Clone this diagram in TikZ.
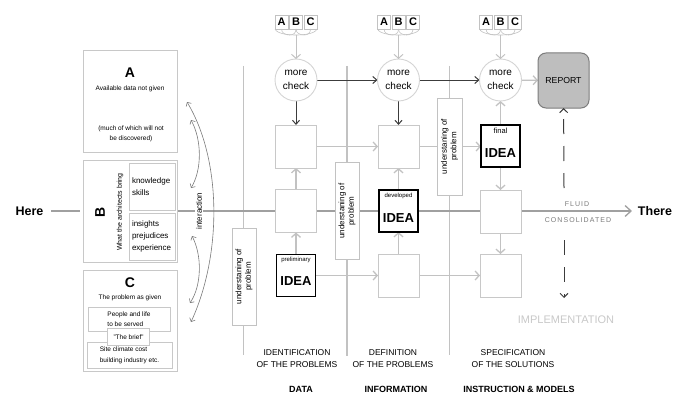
\documentclass[tikz,border=0pt]{standalone}
\usepackage{fontspec}
\setmainfont{Liberation Sans}
\usetikzlibrary{arrows.meta,backgrounds}
\newcommand{\fsz}[2]{\fontsize{#1}{#2}\selectfont}
\definecolor{lg}{HTML}{C2C2C2}
\definecolor{bdr}{HTML}{C8C8C8}
\definecolor{cbd}{HTML}{D4D4D4}
\definecolor{dk}{HTML}{3C3C3C}
\definecolor{mg}{HTML}{A0A0A0}
\definecolor{tg}{HTML}{7A7A7A}
\definecolor{impl}{HTML}{C8C8C8}
\definecolor{repf}{HTML}{BEBEBE}
\definecolor{repd}{HTML}{7C7C7C}
\tikzset{
  every node/.style={inner sep=0pt,outer sep=0pt},
  sq/.style={draw=bdr,fill=white,line width=1pt,minimum width=41pt,minimum height=43pt},
  ideabox/.style={draw=black,fill=white,line width=1.8pt,minimum width=39pt,minimum height=42pt},
  mcirc/.style={circle,draw=cbd,fill=white,line width=0.9pt,minimum size=42pt,align=center,font=\fsz{10}{14}},
  gline/.style={draw=lg,line width=1.3pt},
  garr/.style={gline,-{Straight Barb[length=4pt,width=9pt]}},
  darr/.style={draw=dk,line width=1pt,-{Straight Barb[length=4pt,width=7pt]}},
  undbox/.style={draw=lg,fill=white,line width=1pt,rotate=90,minimum width=97pt,minimum height=24pt,align=center,font=\fsz{8}{9.5}},
  abcbox/.style={draw=lg,line width=0.6pt,minimum width=13pt,minimum height=14pt,font=\fsz{11}{12}\bfseries},
  brc/.style={draw=lg,line width=0.6pt},
  pbox/.style={draw=bdr,fill=white,line width=1pt},
  smalltxt/.style={font=\fsz{6.5}{10},align=center},
  ia/.style={draw=tg,line width=0.6pt,{Straight Barb[length=3pt,width=6pt]}-{Straight Barb[length=3pt,width=6pt]}},
  lbl/.style={align=center,font=\fsz{8.5}{12}},
  blbl/.style={font=\fsz{9}{10}\bfseries},
  mainl/.style={draw=mg,line width=1.3pt},
  dashl/.style={draw=dk,line width=1pt,dash pattern=on 15pt off 12pt,-{Straight Barb[length=4pt,width=8pt]}},
}
\begin{document}
\begin{tikzpicture}[x=1pt,y=-1pt]
\useasboundingbox (0,0) rectangle (685,396);
% ---------- box A
\node[pbox,minimum width=94pt,minimum height=101pt] (boxA) at (130,101.5) {};
\node[font=\fsz{14}{14}\bfseries] (tA) at (130,73) {A};
\node[smalltxt] (tA1) at (130,89) {Available data not given};
\node[smalltxt] (tA2) at (131,133.5) {(much of which will not\\ be discovered)};
% ---------- box B
\node[pbox,minimum width=94pt,minimum height=102pt] (boxB) at (130,211) {};
\node[pbox,minimum width=46pt,minimum height=47pt,align=left,text width=40pt,font=\fsz{8}{12}] (kb) at (152,186.5) {knowledge\\skills};
\node[pbox,minimum width=46pt,minimum height=47pt,align=left,text width=40pt,font=\fsz{8}{12}] (ib) at (152,236.5) {insights\\prejudices\\experience};
\node[rotate=90,font=\fsz{14}{14}\bfseries] (tB) at (100,212) {B};
\node[rotate=90,font=\fsz{7}{8}] (tB1) at (120,212) {What the architects bring};
% ---------- box C
\node[pbox,minimum width=94pt,minimum height=101pt] (boxC) at (130,320.5) {};
\node[font=\fsz{14}{14}\bfseries] (tC) at (130,283) {C};
\node[smalltxt] (tC1) at (130,298) {The problem as given};
\node[pbox,minimum width=82pt,minimum height=24pt,smalltxt,align=left] (peo) at (129,319) {People and life\\to be served};
\node[pbox,minimum width=85pt,minimum height=26pt,smalltxt,align=left,font=\fsz{6.5}{11}] (site) at (129.5,355.5) {Site climate cost\\building industry etc.};
\node[pbox,minimum width=42pt,minimum height=17pt,smalltxt] (brief) at (128.5,337) {"The brief"};
% ---------- interaction
\coordinate (i1) at (187,102);
\coordinate (i2) at (191,322);
\coordinate (i3) at (191,120);
\coordinate (i4) at (191,188);
\coordinate (i5) at (192,236);
\coordinate (i6) at (190,303);
\draw[ia] (i2) .. controls (222,255) and (222,160) .. (i1);
\draw[ia] (i4) .. controls (202,170) and (202,140) .. (i3);
\draw[ia] (i6) .. controls (202,285) and (202,255) .. (i5);
\node[rotate=90,font=\fsz{8}{9},fill=white,inner sep=1pt] (inter) at (199,211) {interaction};
% ---------- circles
\node[mcirc] (mc1) at (296,80) {more\\check};
\node[mcirc] (mc2) at (398.5,80) {more\\check};
\node[mcirc] (mc3) at (500.5,80) {more\\check};
% ---------- squares and ideas
\node[sq] (s11) at (296,146.5) {};
\node[sq] (s12) at (398.5,146.5) {};
\node[ideabox] (fin) at (500.5,146) {};
\node[sq] (s21) at (296,211) {};
\node[ideabox] (dev) at (398.5,211) {};
\node[sq] (s23) at (500.5,211.5) {};
\node[ideabox] (pre) at (296,275.5) {};
\node[sq] (s32) at (398.5,275.5) {};
\node[sq] (s33) at (500.5,275.5) {};
\node[font=\fsz{6}{7}] (preT) at (296,259.5) {preliminary};
\node[font=\fsz{13}{14}\bfseries] (preI) at (296,281) {IDEA};
\node[font=\fsz{6}{7}] (devT) at (398.5,196) {developed};
\node[font=\fsz{13}{14}\bfseries] (devI) at (398.5,218.5) {IDEA};
\node[font=\fsz{7.5}{8}] (finT) at (500.5,131) {final};
\node[font=\fsz{13}{14}\bfseries] (finI) at (500.5,153.5) {IDEA};
% ---------- understanding boxes
\node[undbox] (u1) at (244,276.5) {understaning of\\problem};
\node[undbox] (u2) at (347,211) {understaning of\\problem};
\node[undbox,minimum height=25pt] (u3) at (449.5,146.5) {understaning of\\problem};
% ---------- ABC groups
\foreach \i/\cx in {1/296,2/398.5,3/500.5}{
  \node[abcbox] (ga\i) at (\cx-14.5,22) {A};
  \node[abcbox] (gb\i) at (\cx,22) {B};
  \node[abcbox] (gc\i) at (\cx+14.5,22) {C};
  \coordinate (m\i) at (\cx,35);
  \draw[brc] (ga\i.south west) .. controls +(2,5) and +(-7,0) .. (m\i);
  \draw[brc] (gc\i.south east) .. controls +(-2,5) and +(7,0) .. (m\i);
  \draw[brc] (ga\i.south) .. controls +(0,4) and +(-4,0) .. (gb\i.south west |- m\i) .. controls +(4,0) and +(0,4) .. (gb\i.south);
  \draw[brc] (gb\i.south) .. controls +(0,4) and +(-4,0) .. (gc\i.south west |- m\i) .. controls +(4,0) and +(0,4) .. (gc\i.south);
  \draw[garr,line width=1pt] (m\i) -- (mc\i);
}
% ---------- report
\node[draw=repd,fill=repf,line width=1pt,rounded corners=8pt,minimum width=51pt,minimum height=55pt,font=\fsz{8.7}{10}] (rep) at (563.5,80.5) {REPORT};
% ---------- here / there
\node[font=\fsz{12.5}{14}\bfseries] (here) at (29.5,211) {Here};
\node[font=\fsz{12.5}{14}\bfseries] (there) at (655,211) {There};
\node[font=\fsz{7}{8}\addfontfeatures{LetterSpace=15},text=tg] (fl) at (577,204) {FLUID};
\node[font=\fsz{7}{8}\addfontfeatures{LetterSpace=15},text=tg] (cons) at (578,220) {CONSOLIDATED};
\node[font=\fsz{11}{12},text=impl] (imp) at (566,320) {IMPLEMENTATION};
\coordinate (dtop) at (564,188);
\coordinate (dbot) at (564,240);
\coordinate (dend) at (564,298);
% ---------- bottom labels
\node[lbl] (l1) at (297,359) {IDENTIFICATION\\OF THE PROBLEMS};
\node[lbl] (l2) at (393,359) {DEFINITION\\OF THE PROBLEMS};
\node[lbl] (l3) at (513,359) {SPECIFICATION\\OF THE SOLUTIONS};
\node[blbl] (b1) at (301,389) {DATA};
\node[blbl] (b2) at (396,389) {INFORMATION};
\node[blbl] (b3) at (519,389) {INSTRUCTION \& MODELS};
% ---------- vertical guide lines
\coordinate (v1t) at (243.5,66); \coordinate (v1b) at (243.5,355);
\coordinate (v2t) at (347,66);   \coordinate (v2b) at (347,356);
\coordinate (v3t) at (449.5,66); \coordinate (v3b) at (449.5,355);
\begin{scope}[on background layer]
  \draw[gline] (v1t) -- (v1b);
  \draw[gline] (v2t) -- (v2b);
  \draw[gline] (v3t) -- (v3b);
  \draw[mainl,shorten <=8pt,shorten >=3pt] (here) -- (boxB);
  \draw[mainl,shorten >=6pt,-{Straight Barb[length=6pt,width=11pt]}] (boxB) -- (there);
  \draw[garr] (s11) -- (s12);
  \draw[garr] (s12.east) -- (s12.east -| fin.west);
  \draw[garr] (pre) -- (s32);
  \draw[garr] (s32) -- (s33);
  \draw[garr] (pre) -- (s21);
  \draw[garr] (s21) -- (s11);
  \draw[garr] (s32) -- (dev);
  \draw[garr] (dev) -- (s12);
  \draw[garr] (fin) -- (mc3);
  \draw[garr] (fin) -- (s23);
  \draw[garr] (s23) -- (s33);
  \draw[garr] (mc3) -- (rep);
  \draw[darr] (mc1) -- (mc2);
  \draw[darr] (mc2) -- (mc3);
  \draw[darr] (mc1) -- (s11);
  \draw[darr] (mc2) -- (s12);
\end{scope}
\draw[dashl] (dtop) -- (rep);
\draw[dashl] (dbot) -- (dend);
\end{tikzpicture}
\end{document}
